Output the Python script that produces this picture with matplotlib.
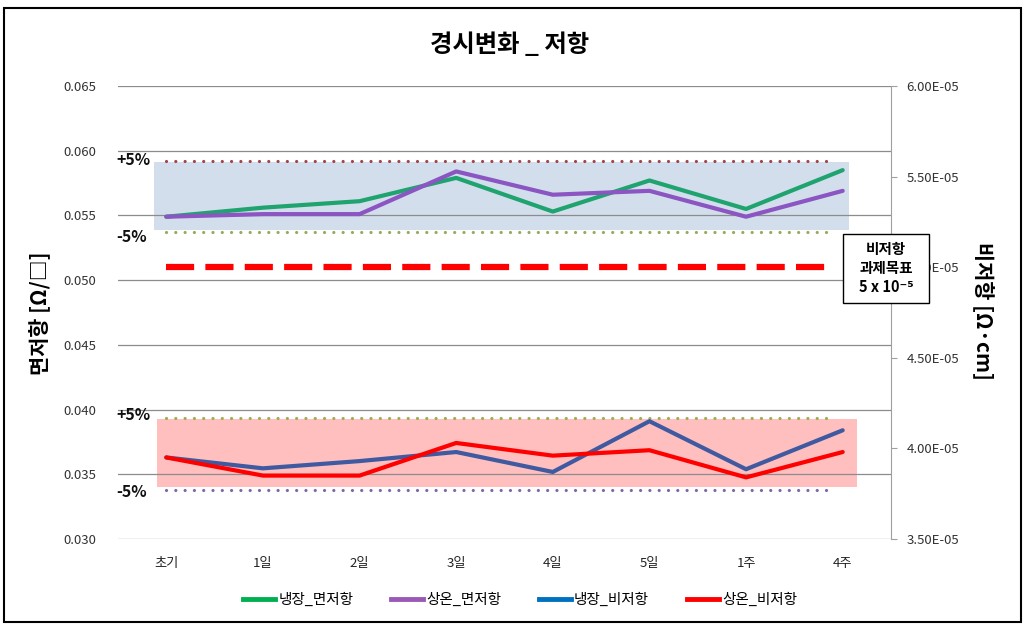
import matplotlib
matplotlib.use("Agg")
import matplotlib.pyplot as plt
from matplotlib.patches import Rectangle
from matplotlib.lines import Line2D
from matplotlib.ticker import FuncFormatter, MultipleLocator

plt.rcParams['font.family'] = ['Noto Sans CJK KR', 'DejaVu Sans']

# ---------------- data ----------------
categories = ['초기', '1일', '2일', '3일', '4일', '5일', '1주', '4주']
cold_sheet = [0.0549, 0.0556, 0.0561, 0.0579, 0.0553, 0.0577, 0.0555, 0.0585]
room_sheet = [0.0549, 0.0551, 0.0551, 0.0584, 0.0566, 0.0569, 0.0549, 0.0569]
cold_resist = [3.95e-5, 3.89e-5, 3.93e-5, 3.98e-5, 3.87e-5, 4.15e-5, 3.885e-5, 4.10e-5]
room_resist = [3.95e-5, 3.85e-5, 3.85e-5, 4.03e-5, 3.96e-5, 3.99e-5, 3.84e-5, 3.98e-5]
series_names = ['냉장_면저항', '상온_면저항', '냉장_비저항', '상온_비저항']
target_resist = 5e-5
sheet_tol = [0.0592, 0.0537]      # +5%, -5% (left axis)
resist_tol = [4.17e-5, 3.77e-5]   # +5%, -5% (right axis)
sheet_band = [0.0539, 0.0591]
resist_band = [3.785e-5, 4.16e-5]

W, H = 1033, 636
fig = plt.figure(figsize=(W / 100, H / 100), dpi=100)

def fx(px):
    return px / W

def fy(py):
    return 1 - py / H

ax = fig.add_axes([fx(118), fy(539), fx(891) - fx(118), fy(86) - fy(539)])
ax2 = ax.twinx()

x = list(range(len(categories)))
ax.set_xlim(-0.5, len(categories) - 0.5)
ax.set_ylim(0.030, 0.065)
ax2.set_ylim(3.5e-5, 6.0e-5)

ax.yaxis.set_major_locator(MultipleLocator(0.005))
ax.yaxis.set_major_formatter(FuncFormatter(lambda v, p: f"{v:.3f}"))
ax2.yaxis.set_major_locator(MultipleLocator(0.5e-5))
ax2.yaxis.set_major_formatter(FuncFormatter(lambda v, p: f"{v:.2E}"))

ax.set_axisbelow(True)
ax.grid(axis='y', color='#8c8c8c', lw=0.9)
ax.grid(axis='x', visible=False)

for a in (ax, ax2):
    for s in ('top', 'left', 'bottom'):
        a.spines[s].set_visible(False)
ax.spines['right'].set_visible(False)
ax2.spines['right'].set_color('#a0a0a0')

ax.set_xticks(x)
ax.set_xticklabels(categories)
ax.tick_params(axis='x', length=0, pad=13, labelsize=9.5, colors='#222222')
ax.tick_params(axis='y', length=0, pad=16, labelsize=9.5, colors='#333333')
ax2.tick_params(axis='y', length=4, width=0.8, color='#a0a0a0', pad=7,
                labelsize=9.5, colors='#333333')

# bands
ax.add_patch(Rectangle((-0.13, sheet_band[0]), 7.2, sheet_band[1] - sheet_band[0],
                       facecolor='#d3deed', edgecolor='none', zorder=0.2))
ax.add_patch(Rectangle((-0.095, resist_band[0]), 7.245, resist_band[1] - resist_band[0],
                       facecolor='#ffbfbf', edgecolor='none', zorder=0.2,
                       transform=ax2.transData))

dot = (0, (0.01, 2.9))
ax.plot([0, 6.92], [sheet_tol[0]] * 2, color='#a2434a', lw=2.3, ls=dot,
        dash_capstyle='round', zorder=2)
ax.plot([0, 6.92], [sheet_tol[1]] * 2, color='#93ab5b', lw=2.3, ls=dot,
        dash_capstyle='round', zorder=2)
ax2.plot([0, 6.92], [resist_tol[0]] * 2, color='#9aae55', lw=2.3, ls=dot,
         dash_capstyle='round', zorder=2)
ax2.plot([0, 6.92], [resist_tol[1]] * 2, color='#7b68a8', lw=2.3, ls=dot,
         dash_capstyle='round', zorder=2)

ax2.plot([0, 6.92], [target_resist] * 2, color='#ff0000', lw=4.5,
         ls=(0, (4.5, 1.8)), zorder=2)

ax.plot(x, cold_sheet, color='#1fa36f', lw=3, zorder=3, solid_capstyle='round')
ax.plot(x, room_sheet, color='#8b55c2', lw=3, zorder=3, solid_capstyle='round')
ax2.plot(x, cold_resist, color='#3f5aa0', lw=3, zorder=3, solid_capstyle='round')
ax2.plot(x, room_resist, color='#ff0000', lw=3, zorder=3, solid_capstyle='round')

# +-5% labels
for txt, py in [('+5%', 160), ('-5%', 237), ('+5%', 415), ('-5%', 492)]:
    fig.text(fx(116), fy(py), txt, fontsize=11.5, fontweight='bold',
             ha='left', va='center', color='#111111')

# title & axis labels
fig.text(fx(510), fy(45), '경시변화 _ 저항', fontsize=17.5, fontweight='bold',
         ha='center', va='center')
fig.text(fx(40), fy(313), '면저항 [Ω/□]', fontsize=15, fontweight='bold',
         rotation=90, ha='center', va='center')
fig.text(fx(983), fy(311), '비저항 [Ω·cm]', fontsize=15, fontweight='bold',
         rotation=270, ha='center', va='center')

# annotation box
fig.patches.append(Rectangle((fx(843), fy(303)), fx(929) - fx(843), fy(234) - fy(303),
                             transform=fig.transFigure, facecolor='white',
                             edgecolor='black', lw=1, zorder=5))
fig.text(fx(886), fy(268), '비저항\n과제목표\n5 x 10⁻⁵', fontsize=10.5,
         fontweight='bold', ha='center', va='center', linespacing=1.2,
         zorder=6, family=['Noto Sans CJK KR', 'DejaVu Sans'])

# legend
handles = [Line2D([], [], color=c, lw=3.5)
           for c in ['#00b050', '#9b59b6', '#0070c0', '#ff0000']]
fig.legend(handles, series_names, loc='center', ncol=4,
           bbox_to_anchor=(fx(520), fy(600)), frameon=False, fontsize=10.5,
           handlelength=2.2, handletextpad=0.2, columnspacing=2.6)

# outer frame
fig.patches.append(Rectangle((fx(4), fy(622)), fx(1021) - fx(4), fy(8) - fy(622),
                             transform=fig.transFigure, facecolor='none',
                             edgecolor='black', lw=1.5, zorder=0))

fig.savefig('out.png', dpi=100)
